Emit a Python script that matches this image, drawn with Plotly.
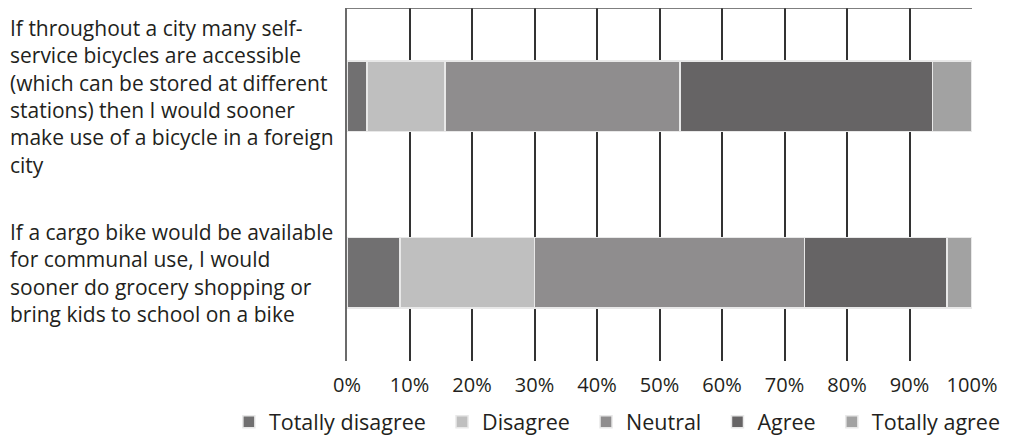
import plotly.graph_objects as go

# Survey statements (top to bottom) and shares per answer, in %
statements = [
    "If throughout a city many self-<br>service bicycles are accessible<br>(which can be stored at different<br>stations) then I would sooner<br>make use of a bicycle in a foreign<br>city",
    "If a cargo bike would be available<br>for communal use, I would<br>sooner do grocery shopping or<br>bring kids to school on a bike",
]
answers = ["Totally disagree", "Disagree", "Neutral", "Agree", "Totally agree"]
totally_disagree = [3.2, 8.5]
disagree = [12.5, 21.5]
neutral = [37.6, 43.2]
agree = [40.4, 22.8]
totally_agree = [6.3, 4.0]
x_ticks = [0, 10, 20, 30, 40, 50, 60, 70, 80, 90, 100]

colors = ["#717071", "#bfbfbf", "#8f8d8e", "#666465", "#a2a2a2"]
series = [totally_disagree, disagree, neutral, agree, totally_agree]
keys = ["s1", "s2"]  # plain category keys, labels drawn as annotations

pad = "\u00a0" * 2  # a bit more room between legend entries

fig = go.Figure()
for name, vals, col in zip(answers, series, colors):
    fig.add_trace(go.Bar(
        y=keys, x=vals, name=name + pad, orientation="h",
        marker=dict(color=col, line=dict(color="#e8e8e8", width=1.5)),
    ))

# left-aligned statement labels
for k, txt in zip(keys, statements):
    fig.add_annotation(
        x=0, xref="paper", xshift=-339, xanchor="left",
        y=k, yref="y", yanchor="middle",
        text=txt, align="left", showarrow=False,
        font=dict(family="Open Sans", size=21, color="#231f20"),
    )

# top border line of the plot area
fig.add_shape(type="line", xref="x domain", yref="y domain",
              x0=0, x1=1, y0=1, y1=1, line=dict(color="#555555", width=1.5))

fig.update_layout(
    width=1013, height=441,
    margin=dict(l=339, r=49, t=0, b=88),
    barmode="stack", bargap=0.6,
    plot_bgcolor="white", paper_bgcolor="white",
    font=dict(family="Open Sans", size=20, color="#231f20"),
    showlegend=True,
    legend=dict(orientation="h", x=-0.189, xanchor="left", y=-0.172, yanchor="middle",
                itemwidth=30, font=dict(size=21.5), traceorder="normal"),
)
fig.update_xaxes(range=[0, 100], tickvals=x_ticks, ticktext=[f"{v}%" for v in x_ticks],
                 showgrid=True, gridcolor="#333333", gridwidth=1.5,
                 zeroline=False, showline=False, ticks="", ticklen=0,
                 ticklabelstandoff=10, tickfont=dict(size=20))
fig.update_yaxes(autorange="reversed", showticklabels=False, showgrid=False,
                 showline=True, linecolor="#6b6b6b", linewidth=2, ticks="")

fig.write_html("out.html")
